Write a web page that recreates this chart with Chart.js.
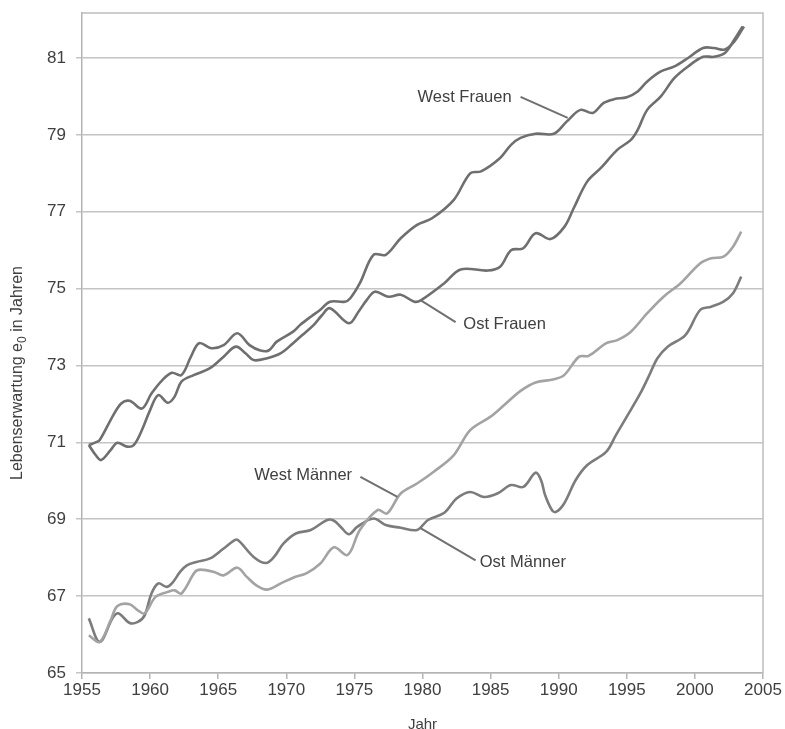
<!DOCTYPE html>
<html><head><meta charset="utf-8">
<script src="https://cdn.jsdelivr.net/npm/chart.js@4/dist/chart.umd.min.js"></script>
<style>html,body{margin:0;padding:0;background:#fff}</style>
</head><body>
<canvas id="c" width="785" height="729"></canvas>
<script>
// ---- data ----
const xTicks = [1955,1960,1965,1970,1975,1980,1985,1990,1995,2000,2005];
const yTicks = [65,67,69,71,73,75,77,79,81];

const westFrauenYears = [1955.5,1956.0,1956.3,1957.3,1957.9,1958.5,1959.4,1960.1,1960.9,1961.6,1962.3,1963.0,1963.6,1964.5,1965.4,1966.4,1967.3,1968.1,1968.7,1969.3,1970.5,1971.0,1971.8,1972.5,1973.2,1974.3,1974.7,1975.4,1976.4,1977.3,1978.4,1979.6,1980.7,1982.3,1983.5,1984.3,1985.7,1986.5,1987.2,1988.3,1989.65,1990.6,1991.6,1992.5,1993.3,1994.1,1995.0,1995.8,1996.5,1997.5,1998.5,1999.5,2000.6,2001.4,2002.2,2002.9,2003.6];
const westFrauenValues = [70.93,71.0,71.06,71.71,72.02,72.08,71.88,72.27,72.62,72.81,72.75,73.23,73.58,73.45,73.53,73.84,73.53,73.39,73.39,73.62,73.88,74.05,74.27,74.45,74.66,74.66,74.75,75.14,75.88,75.88,76.31,76.66,76.83,77.31,78.0,78.05,78.4,78.74,78.92,79.03,79.03,79.35,79.65,79.57,79.83,79.93,79.98,80.13,80.39,80.65,80.78,81.0,81.26,81.26,81.22,81.43,81.82];

const ostFrauenYears = [1955.5,1956.0,1956.4,1957.1,1957.6,1958.3,1958.8,1959.4,1960.0,1960.6,1961.3,1961.8,1962.3,1963.2,1964.4,1965.4,1966.3,1967.0,1967.6,1968.6,1969.6,1970.5,1971.2,1972.0,1972.6,1973.2,1974.6,1975.3,1975.9,1976.5,1977.5,1978.4,1979.4,1979.9,1981.6,1982.8,1984.8,1985.7,1986.5,1987.4,1988.3,1989.4,1990.4,1991.1,1992.1,1993.1,1994.3,1995.3,1995.8,1996.5,1997.5,1998.5,1999.5,2000.6,2001.4,2002.2,2002.9,2003.5];
const ostFrauenValues = [70.93,70.67,70.54,70.8,70.99,70.89,70.93,71.32,71.84,72.23,72.03,72.19,72.58,72.75,72.93,73.23,73.49,73.32,73.14,73.19,73.32,73.58,73.8,74.05,74.3,74.49,74.1,74.4,74.7,74.92,74.79,74.84,74.66,74.7,75.14,75.5,75.47,75.57,76.0,76.05,76.44,76.29,76.6,77.09,77.79,78.14,78.61,78.87,79.13,79.65,80.0,80.48,80.78,81.03,81.03,81.13,81.48,81.82];

const westMaennerYears = [1955.5,1956.3,1957.1,1957.6,1958.5,1959.1,1959.6,1960.4,1961.3,1961.8,1962.3,1963.3,1963.7,1964.7,1965.4,1966.4,1967.1,1967.8,1968.6,1969.6,1970.5,1971.5,1972.5,1973.5,1974.5,1975.4,1976.7,1977.4,1978.4,1979.6,1980.8,1982.3,1983.5,1985.0,1986.0,1987.2,1988.3,1989.65,1990.4,1991.5,1992.2,1993.5,1994.3,1995.3,1996.5,1997.7,1998.95,2000.4,2001.2,2002.1,2002.8,2003.4];
const westMaennerValues = [65.98,65.81,66.37,66.74,66.79,66.63,66.55,66.98,67.11,67.15,67.07,67.63,67.69,67.63,67.54,67.74,67.5,67.28,67.17,67.33,67.48,67.6,67.85,68.27,68.07,68.72,69.24,69.15,69.67,69.93,70.23,70.67,71.32,71.67,71.97,72.34,72.56,72.64,72.75,73.23,73.25,73.58,73.66,73.88,74.36,74.79,75.14,75.66,75.79,75.83,76.09,76.48];

const ostMaennerYears = [1955.5,1956.3,1957.3,1957.7,1958.5,1959.1,1959.6,1960.1,1960.6,1961.2,1961.6,1962.2,1962.7,1963.4,1964.4,1965.4,1966.3,1966.6,1967.6,1968.5,1969.1,1969.8,1970.7,1971.8,1973.0,1973.5,1974.0,1974.6,1975.2,1976.4,1977.3,1978.4,1979.6,1980.4,1981.6,1982.5,1983.5,1984.5,1985.5,1986.5,1987.4,1988.3,1988.7,1989.0,1989.5,1989.8,1990.4,1991.25,1992.1,1993.5,1994.2,1995.0,1996.0,1996.6,1997.25,1998.0,1999.3,2000.4,2001.2,2002.1,2002.8,2003.4];
const ostMaennerValues = [66.42,65.81,66.46,66.55,66.3,66.33,66.5,67.07,67.33,67.24,67.33,67.63,67.8,67.89,67.98,68.24,68.47,68.41,68.02,67.86,68.02,68.37,68.63,68.72,68.98,68.96,68.8,68.61,68.8,69.02,68.85,68.78,68.72,68.98,69.17,69.54,69.71,69.58,69.67,69.89,69.84,70.21,70.02,69.63,69.24,69.19,69.41,70.02,70.41,70.76,71.19,71.67,72.28,72.71,73.19,73.49,73.79,74.45,74.53,74.66,74.88,75.31];

const seriesNames = ['West Frauen','Ost Frauen','West Männer','Ost Männer'];
// label anchors (data coordinates): text start, leader from, leader to
const labelTextX = [1979.63, 1983.0, 1967.65, 1984.2];
const labelTextY = [79.97, 74.08, 70.15, 67.88];
const leaderFromX = [1987.2, 1979.85, 1975.44, 1979.85];
const leaderFromY = [79.99, 74.70, 70.10, 68.77];
const leaderToX = [1990.66, 1982.43, 1978.16, 1983.9];
const leaderToY = [79.44, 74.13, 69.58, 67.93];

const yTitleParts = ['Lebenserwartung ', 'e', '0', ' in Jahren'];
const xTitle = 'Jahr';

// ---- build ----
const FONT = '"Liberation Sans", Arial, sans-serif';
function pts(xs, ys){ return xs.map((x,i)=>({x:x, y:ys[i]})); }
const colors = ['#6f6f6f','#6f6f6f','#a3a3a3','#7c7c7c'];
const seriesData = [
  pts(westFrauenYears, westFrauenValues),
  pts(ostFrauenYears, ostFrauenValues),
  pts(westMaennerYears, westMaennerValues),
  pts(ostMaennerYears, ostMaennerValues)
];

const decor = {
  id:'decor',
  afterDraw(chart){
    const {ctx, chartArea:a, scales:{x, y}} = chart;
    ctx.save();
    ctx.strokeStyle = '#bdbdbd';
    ctx.lineWidth = 1.5;
    ctx.beginPath();
    ctx.moveTo(a.left, a.top); ctx.lineTo(a.right, a.top); ctx.lineTo(a.right, a.bottom);
    ctx.stroke();
    ctx.font = '16.5px ' + FONT;
    ctx.fillStyle = '#404040';
    ctx.textBaseline = 'middle';
    ctx.textAlign = 'left';
    for (let i=0;i<seriesNames.length;i++){
      ctx.fillText(seriesNames[i], x.getPixelForValue(labelTextX[i]), y.getPixelForValue(labelTextY[i]));
      ctx.strokeStyle = '#707070';
      ctx.lineWidth = 2;
      ctx.beginPath();
      ctx.moveTo(x.getPixelForValue(leaderFromX[i]), y.getPixelForValue(leaderFromY[i]));
      ctx.lineTo(x.getPixelForValue(leaderToX[i]), y.getPixelForValue(leaderToY[i]));
      ctx.stroke();
    }
    const big = '16px ' + FONT, small = '12px ' + FONT;
    ctx.font = big; const w0 = ctx.measureText(yTitleParts[0]).width, w1 = ctx.measureText(yTitleParts[1]).width, w3 = ctx.measureText(yTitleParts[3]).width;
    ctx.font = small; const w2 = ctx.measureText(yTitleParts[2]).width;
    const total = w0+w1+w2+w3;
    ctx.translate(18, 373);
    ctx.rotate(-Math.PI/2);
    ctx.textBaseline = 'middle';
    let cx = -total/2;
    ctx.font = big; ctx.fillText(yTitleParts[0], cx, 0); cx += w0;
    ctx.fillText(yTitleParts[1], cx, 0); cx += w1;
    ctx.font = small; ctx.fillText(yTitleParts[2], cx, 5); cx += w2;
    ctx.font = big; ctx.fillText(yTitleParts[3], cx, 0);
    ctx.restore();
  }
};

new Chart(document.getElementById('c'), {
  type:'line',
  data:{
    datasets: seriesNames.map((n,i)=>({
      label:n, data:seriesData[i], borderColor:colors[i], backgroundColor:colors[i],
      borderWidth:2.6, pointRadius:0, tension:0.35, fill:false
    }))
  },
  options:{
    responsive:false, animation:false,
    layout:{padding:{left:0, top:13, right:22, bottom:0}},
    plugins:{legend:{display:false}, tooltip:{enabled:false}},
    scales:{
      x:{
        type:'linear', min:1955, max:2005,
        afterBuildTicks(s){ s.ticks = xTicks.map(v=>({value:v})); },
        afterFit(s){ s.height = 56; s.paddingLeft = 0; s.paddingRight = 0; },
        ticks:{ callback:v=>String(v), font:{family:FONT, size:17}, color:'#404040', padding:1, maxRotation:0, autoSkip:false },
        grid:{ drawOnChartArea:false, drawTicks:true, tickLength:6, color:'#b4b4b4', lineWidth:1.5 },
        border:{ color:'#b4b4b4', width:1.5 },
        title:{ display:true, text:xTitle, font:{family:FONT, size:15, lineHeight:0.5}, color:'#404040', padding:{top:0,bottom:0} }
      },
      y:{
        type:'linear', min:65, max:82.17,
        afterBuildTicks(s){ s.ticks = yTicks.map(v=>({value:v})); },
        afterFit(s){ s.width = 82; s.paddingTop = 0; s.paddingBottom = 0; },
        ticks:{ callback:v=>String(v), font:{family:FONT, size:17}, color:'#404040', padding:10 },
        grid:{ color:'#c4c4c4', lineWidth:1.5, tickLength:6 },
        border:{ color:'#b4b4b4', width:1.5 }
      }
    }
  },
  plugins:[decor]
});
</script>
</body></html>
